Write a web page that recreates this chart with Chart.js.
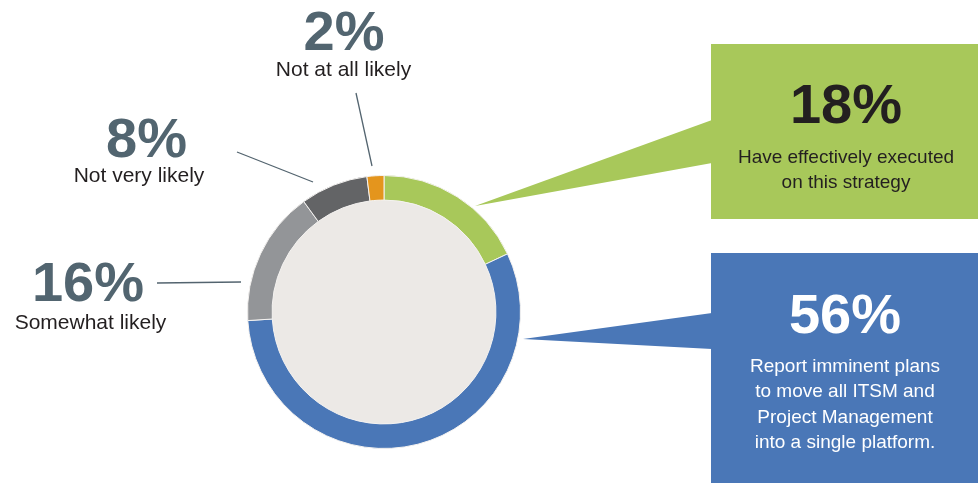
<!DOCTYPE html>
<html>
<head>
<meta charset="utf-8">
<script src="https://cdn.jsdelivr.net/npm/chart.js@4.4.1/dist/chart.umd.min.js"></script>
<style>
  html, body { margin: 0; padding: 0; background: #ffffff; }
  #wrap { width: 978px; height: 483px; position: relative; }
</style>
</head>
<body>
<div id="wrap"><canvas id="c" width="978" height="483"></canvas></div>
<script>
// ---- Data ----
const categories = [
  "Have effectively executed on this strategy",
  "Report imminent plans to move all ITSM and Project Management into a single platform.",
  "Somewhat likely",
  "Not very likely",
  "Not at all likely"
];
const values = [18, 56, 16, 8, 2];
const valueLabels = ["18%", "56%", "16%", "8%", "2%"];
const colors = ["#A8C85A", "#4A77B7", "#939598", "#636466", "#E4951D"];

const FONT = "'Liberation Sans', Arial, Helvetica, sans-serif";
const PCT_COLOR = "#526570";
const TXT_COLOR = "#231F20";

// Annotation layout (styling only)
const sideLabels = [
  { idx: 4, sub: ["Not at all likely"], pctX: 344, pctY: 50, subX: 343.5, subY: 76, from: [356, 93], to: [372, 166] },
  { idx: 3, sub: ["Not very likely"], pctX: 146.5, pctY: 157, subX: 139, subY: 182, from: [237, 152], to: [313, 182] },
  { idx: 2, sub: ["Somewhat likely"], pctX: 88, pctY: 301, subX: 90.5, subY: 329, from: [157, 283], to: [241, 282] }
];
const callouts = [
  { idx: 0, box: [711, 44, 267, 175], tip: [475, 206], base: [120, 163],
    textColor: "#231F20", pctX: 846, pctY: 123, lines: ["Have effectively executed", "on this strategy"], lineY: 163, lineH: 24.5 },
  { idx: 1, box: [711, 253, 267, 230], tip: [523, 339], base: [313, 349],
    textColor: "#FFFFFF", pctX: 845, pctY: 333, lines: ["Report imminent plans", "to move all ITSM and", "Project Management", "into a single platform."], lineY: 372, lineH: 25.4 }
];

const centerFill = {
  id: "centerFill",
  beforeDatasetsDraw(chart) {
    const arc = chart.getDatasetMeta(0).data[0];
    if (!arc) return;
    const ctx = chart.ctx;
    ctx.save();
    ctx.beginPath();
    ctx.arc(arc.x, arc.y, arc.innerRadius, 0, Math.PI * 2);
    ctx.fillStyle = "#ECE9E6";
    ctx.fill();
    ctx.restore();
  }
};

const annotations = {
  id: "annotations",
  afterDraw(chart) {
    const ctx = chart.ctx;
    ctx.save();
    ctx.textAlign = "center";
    ctx.textBaseline = "alphabetic";
    // leader lines + side labels
    sideLabels.forEach(s => {
      ctx.beginPath();
      ctx.moveTo(s.from[0], s.from[1]);
      ctx.lineTo(s.to[0], s.to[1]);
      ctx.strokeStyle = "#53646F";
      ctx.lineWidth = 1.3;
      ctx.stroke();
      ctx.fillStyle = PCT_COLOR;
      ctx.font = "bold 56px " + FONT;
      ctx.fillText(valueLabels[s.idx], s.pctX, s.pctY);
      ctx.fillStyle = TXT_COLOR;
      ctx.font = "21px " + FONT;
      s.sub.forEach((t, i) => ctx.fillText(t, s.subX, s.subY + i * 24));
    });
    // callouts
    callouts.forEach(c => {
      const [bx, by, bw, bh] = c.box;
      ctx.fillStyle = colors[c.idx];
      ctx.beginPath();
      ctx.moveTo(c.tip[0], c.tip[1]);
      ctx.lineTo(bx + 1, c.base[0]);
      ctx.lineTo(bx + 1, c.base[1]);
      ctx.closePath();
      ctx.fill();
      ctx.fillRect(bx, by, bw, bh);
      ctx.fillStyle = c.textColor;
      ctx.font = "bold 56px " + FONT;
      ctx.fillText(valueLabels[c.idx], c.pctX, c.pctY);
      ctx.font = "19px " + FONT;
      c.lines.forEach((t, i) => ctx.fillText(t, c.pctX, c.lineY + i * c.lineH));
    });
    ctx.restore();
  }
};

new Chart(document.getElementById("c"), {
  type: "doughnut",
  data: {
    labels: categories,
    datasets: [{
      data: values,
      backgroundColor: colors,
      borderColor: "#F4F2F0",
      borderWidth: 1
    }]
  },
  options: {
    responsive: false,
    devicePixelRatio: 1,
    animation: false,
    cutout: "82%",
    rotation: 0,
    layout: { padding: { left: 247, right: 457, top: 175, bottom: 34 } },
    plugins: {
      legend: { display: false },
      tooltip: { enabled: false },
      title: { display: false }
    }
  },
  plugins: [centerFill, annotations]
});
</script>
</body>
</html>
